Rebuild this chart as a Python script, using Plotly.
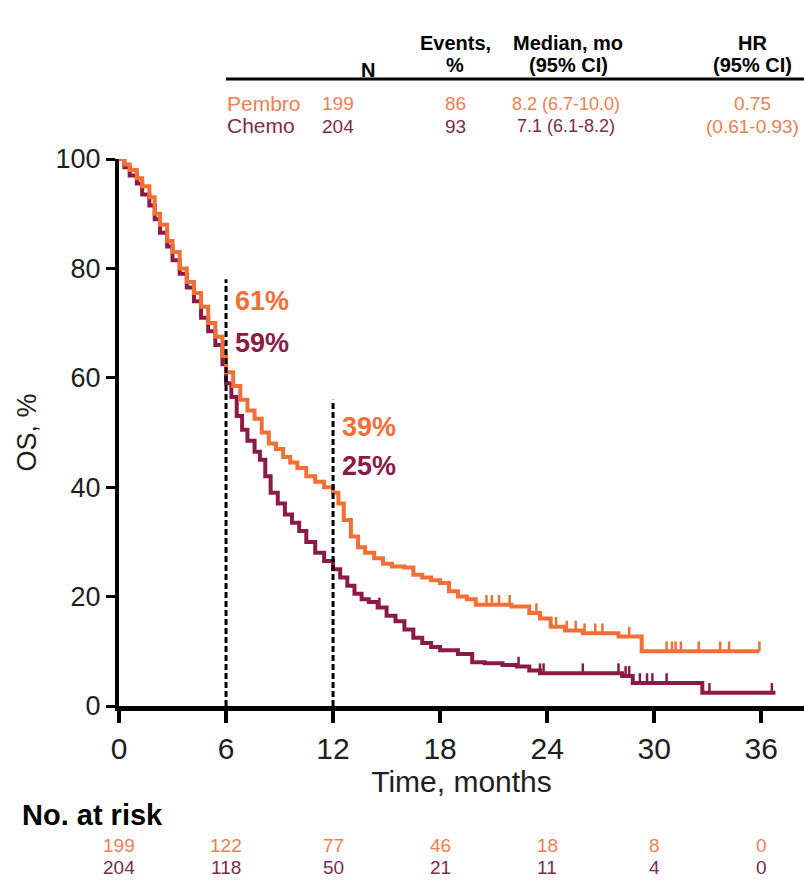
import numpy as np
import plotly.graph_objects as go

# ---------------- data ----------------
arms = ["Pembro", "Chemo"]
arm_n = [199, 204]
arm_events = [86, 93]
arm_median = ["8.2 (6.7-10.0)", "7.1 (6.1-8.2)"]
hr_text = ["0.75", "(0.61-0.93)"]

pembro_t = [0, 0.3, 0.6, 1.0, 1.3, 1.7, 2.0, 2.3, 2.7, 3.0, 3.4, 3.8, 4.2, 4.6, 5.0, 5.4, 5.8, 6.0,
            6.4, 6.8, 7.2, 7.6, 8.0, 8.4, 8.8, 9.2, 9.6, 10.0, 10.5, 11.0, 11.5, 12.0, 12.3, 12.6,
            13.0, 13.4, 13.8, 14.3, 14.8, 15.3, 16.0, 16.5, 17.0, 17.5, 18.0, 18.5, 19.0, 19.5,
            20.0, 21.0, 22.0, 23.0, 23.6, 24.2, 25.0, 26.0, 27.0, 28.0, 28.8, 29.3, 35.9]
pembro_s = [100, 99, 98, 96.5, 95, 93, 90, 88, 85, 83, 80, 77.5, 75.5, 73, 70, 67.5, 64, 61,
            58.5, 56, 54, 52.5, 50, 48, 47, 45.5, 44.5, 43.5, 42, 41, 40, 39, 37, 34,
            31, 29, 28, 27, 26, 25.5, 25.3, 24, 23.5, 23, 22.5, 21, 20, 19.5,
            18.5, 18.5, 18.2, 17, 16, 14.5, 13.8, 13.3, 13.3, 12.7, 12.7, 10, 10]
pembro_censor = [20.6, 20.9, 21.3, 21.9, 23.4, 24.5, 25.1, 25.6, 26.1, 26.7, 27.1, 28.6,
                 30.7, 31.0, 31.2, 31.5, 32.5, 33.7, 34.2, 35.9]

chemo_t = [0, 0.3, 0.6, 1.0, 1.3, 1.7, 2.0, 2.3, 2.7, 3.0, 3.4, 3.8, 4.2, 4.6, 5.0, 5.4, 5.8, 6.0,
           6.3, 6.6, 6.9, 7.2, 7.6, 7.9, 8.2, 8.5, 8.9, 9.3, 9.7, 10.1, 10.5, 11.0, 11.5, 12.0,
           12.4, 12.8, 13.2, 13.6, 14.0, 14.5, 15.0, 15.5, 16.0, 16.5, 17.0, 17.5, 18.0, 19.0,
           19.8, 20.5, 21.5, 22.3, 23.0, 23.6, 26.0, 28.2, 28.8, 30.5, 32.7, 36.8]
chemo_s = [100, 98.5, 97, 95.5, 93.5, 91.5, 89, 86.5, 84, 81.5, 79, 76.5, 74, 71, 68.5, 66, 62.5, 59,
           56.5, 53, 50.5, 48.5, 46.5, 45, 42, 39, 37, 35, 33.5, 32, 30, 28, 26.5, 25,
           23.5, 22, 20.5, 19.5, 19, 18, 16.5, 15.5, 14, 12.5, 11.5, 10.8, 10.2, 9.5,
           8, 7.8, 7.5, 7.2, 6.5, 6, 6, 5.5, 4.2, 4.2, 2.4, 2.4]
chemo_censor = [14.6, 15.0, 22.4, 23.6, 23.8, 26.0, 28.0, 28.4, 28.6, 29.2, 29.6, 29.9,
                30.7, 33.1, 36.6]

landmark_months = [6, 12]
landmark_top = [78, 56]
landmark_pembro = ["61%", "39%"]
landmark_chemo = ["59%", "25%"]
landmark_pembro_y = [74, 51]
landmark_chemo_y = [66.3, 43.8]

risk_times = [0, 6, 12, 18, 24, 30, 36]
risk_pembro = [199, 122, 77, 46, 18, 8, 0]
risk_chemo = [204, 118, 50, 21, 11, 4, 0]

x_ticks = [0, 6, 12, 18, 24, 30, 36]
y_ticks = [0, 20, 40, 60, 80, 100]

# ---------------- style ----------------
W, H = 804, 886
L, R, T, B = 119, 0, 159, 180
PW, PH = W - L - R, H - T - B
C_P = "#F36F35"
C_C = "#8C1A46"
C_PT = "#EF8052"
C_CT = "#7D2A50"
NARROW = "Liberation Sans Narrow, Arial Narrow, Liberation Sans, Arial"
SANS = "Liberation Sans, Arial"
INK = "#1e1e1e"


def py(px):
    return (H - B - px) / PH


def pxx(px):
    return (px - L) / PW


def step_val(ts, ss, t):
    i = np.searchsorted(np.array(ts), t, side="right") - 1
    return np.array(ss)[i]


def note(x, y, text, size, color, family=NARROW, xanchor="center", xref="paper"):
    fig.add_annotation(x=x, y=y, xref=xref, yref="paper", text=text, showarrow=False,
                       xanchor=xanchor, yanchor="middle",
                       font=dict(family=family, size=size, color=color))


fig = go.Figure()
for ts, ss, cen, col, name in [(chemo_t, chemo_s, chemo_censor, C_C, "Chemo"),
                               (pembro_t, pembro_s, pembro_censor, C_P, "Pembro")]:
    fig.add_trace(go.Scatter(x=ts, y=ss, mode="lines", line=dict(color=col, width=4, shape="hv"),
                             name=name, cliponaxis=False, showlegend=False))
    fig.add_trace(go.Scatter(x=cen, y=[step_val(ts, ss, c) + 0.9 for c in cen], mode="markers",
                             marker=dict(symbol="line-ns", size=7, line=dict(color=col, width=2.5)),
                             cliponaxis=False, showlegend=False, hoverinfo="skip"))

for m, top in zip(landmark_months, landmark_top):
    fig.add_shape(type="line", x0=m, x1=m, y0=0, y1=top, xref="x", yref="y",
                  line=dict(color="black", width=3, dash="6px,3px"))
for m, tp, tc, yp, yc in zip(landmark_months, landmark_pembro, landmark_chemo,
                             landmark_pembro_y, landmark_chemo_y):
    fig.add_annotation(x=m + 0.4, y=yp, text=f"<b>{tp}</b>", showarrow=False, xanchor="left",
                       yanchor="middle", font=dict(family=SANS, size=27, color=C_P))
    fig.add_annotation(x=m + 0.4, y=yc, text=f"<b>{tc}</b>", showarrow=False, xanchor="left",
                       yanchor="middle", font=dict(family=SANS, size=27, color=C_C))

# risk table
note(pxx(20), py(815), "<b>No. at risk</b>", 29, "black", xanchor="left")
for t, a, b in zip(risk_times, risk_pembro, risk_chemo):
    note(t, py(845), str(a), 19, C_PT, xref="x")
    note(t, py(867), str(b), 19, C_CT, xref="x")

# header table
note(pxx(368), py(70), "<b>N</b>", 20, "black")
for x, (l1, l2) in [(455, ("Events,", "%")), (568, ("Median, mo", "(95% CI)")), (752, ("HR", "(95% CI)"))]:
    note(pxx(x), py(43), f"<b>{l1}</b>", 20, "black")
    note(pxx(x), py(65), f"<b>{l2}</b>", 20, "black")
fig.add_shape(type="line", xref="paper", yref="paper", x0=pxx(226), x1=pxx(804), y0=py(79), y1=py(79),
              line=dict(color="black", width=3))
row_y = [103, 125]
row_col = [C_PT, C_CT]
for i in range(2):
    note(pxx(225), py(row_y[i]), arms[i], 21, row_col[i], family=SANS, xanchor="left")
    note(pxx(338), py(row_y[i] + 1), str(arm_n[i]), 19, row_col[i])
    note(pxx(455), py(row_y[i] + 1), str(arm_events[i]), 19, row_col[i])
    note(pxx(566), py(row_y[i] + 1), arm_median[i], 18, row_col[i])
    note(pxx(752), py(row_y[i] + 1), hr_text[i], 19, C_PT)

fig.update_layout(
    width=W, height=H, margin=dict(l=L, r=R, t=T, b=B, autoexpand=False),
    paper_bgcolor="white", plot_bgcolor="white",
    xaxis=dict(range=[0, 38.4], tickvals=x_ticks, showgrid=False, zeroline=False,
               showline=True, linecolor="black", linewidth=5, ticks="outside", ticklen=12,
               tickwidth=4, tickcolor="black", tickfont=dict(family=NARROW, size=30, color=INK),
               automargin=False,
               title=dict(text="Time, months", font=dict(family=NARROW, size=30, color=INK), standoff=6)),
    yaxis=dict(range=[0, 100], tickvals=y_ticks, showgrid=False, zeroline=False,
               showline=True, linecolor="black", linewidth=4, ticks="outside", ticklen=9,
               tickwidth=3, tickcolor="black", tickfont=dict(family=NARROW, size=27, color=INK),
               automargin=False,
               title=dict(text="OS, %", font=dict(family=SANS, size=27, color=INK), standoff=12)),
)

fig.write_html("out.html", config={"displayModeBar": False},
               post_script="document.body.style.margin='0';")
